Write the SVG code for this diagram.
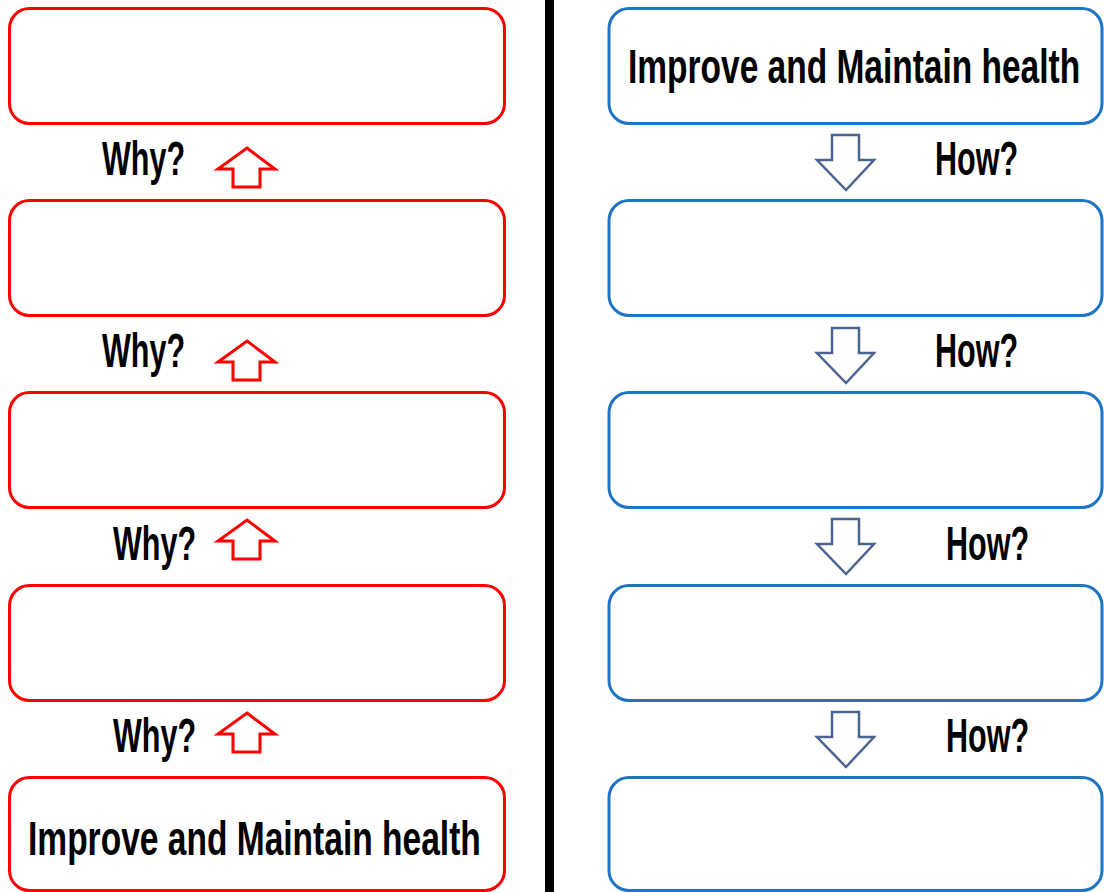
<svg xmlns="http://www.w3.org/2000/svg" width="1104" height="892" viewBox="0 0 1104 892">
  <style>
    .why-box { fill: #ffffff; stroke: #ff0000; stroke-width: 3; }
    .how-box { fill: #ffffff; stroke: #1f74c4; stroke-width: 3; }
    .up { fill: #ffffff; stroke: #ff0000; stroke-width: 3; stroke-linejoin: miter; }
    .down { fill: #ffffff; stroke: #4a6690; stroke-width: 2.5; stroke-linejoin: miter; }
    .lbl { font-family: "Liberation Sans", Arial, sans-serif; font-weight: bold; font-size: 49px; fill: #000000; }
  </style>
  <defs>
    <polygon id="up-arrow" class="up" points="0,0 28,21 13,21 13,39 -14,39 -14,21 -29,21"/>
    <polygon id="down-arrow" class="down" points="-14,0 13,0 13,25 28,25 0,55 -29,25 -14,25"/>
  </defs>
  <rect width="1104" height="892" fill="#ffffff"/>

  <!-- divider -->
  <rect x="545" y="0" width="9" height="892" fill="#000000"/>

  <!-- left column: Why? -->
  <g id="why-box-1"><rect class="why-box" x="9.5" y="8.5" width="495" height="115" rx="20"/></g>
  <g id="why-box-2"><rect class="why-box" x="9.5" y="200.5" width="495" height="115" rx="20"/></g>
  <g id="why-box-3"><rect class="why-box" x="9.5" y="392.5" width="495" height="115" rx="20"/></g>
  <g id="why-box-4"><rect class="why-box" x="9.5" y="585.5" width="495" height="115" rx="20"/></g>
  <g id="why-box-5">
    <rect class="why-box" x="9.5" y="777.5" width="495" height="113" rx="20"/>
    <text class="lbl" transform="translate(28 855) scale(0.684 1)" textLength="662" lengthAdjust="spacingAndGlyphs">Improve and Maintain health</text>
  </g>

  <!-- right column: How? -->
  <g id="how-box-1">
    <rect class="how-box" x="609" y="8.5" width="493" height="115" rx="20"/>
    <text class="lbl" transform="translate(628 83) scale(0.684 1)" textLength="661" lengthAdjust="spacingAndGlyphs">Improve and Maintain health</text>
  </g>
  <g id="how-box-2"><rect class="how-box" x="609" y="200.5" width="493" height="115" rx="20"/></g>
  <g id="how-box-3"><rect class="how-box" x="609" y="392.5" width="493" height="115" rx="20"/></g>
  <g id="how-box-4"><rect class="how-box" x="609" y="585.5" width="493" height="115" rx="20"/></g>
  <g id="how-box-5"><rect class="how-box" x="609" y="777.5" width="493" height="113" rx="20"/></g>

  <!-- connectors -->
  <g id="connectors">
    <use href="#up-arrow" x="247" y="148"/>
    <use href="#up-arrow" x="247" y="341"/>
    <use href="#up-arrow" x="247" y="520"/>
    <use href="#up-arrow" x="247" y="713"/>
    <text class="lbl" transform="translate(102 175) scale(0.62 1)" textLength="134" lengthAdjust="spacingAndGlyphs">Why?</text>
    <text class="lbl" transform="translate(102 367) scale(0.62 1)" textLength="134" lengthAdjust="spacingAndGlyphs">Why?</text>
    <text class="lbl" transform="translate(113 560) scale(0.62 1)" textLength="134" lengthAdjust="spacingAndGlyphs">Why?</text>
    <text class="lbl" transform="translate(113 752) scale(0.62 1)" textLength="134" lengthAdjust="spacingAndGlyphs">Why?</text>

    <use href="#down-arrow" x="846" y="135"/>
    <use href="#down-arrow" x="846" y="328"/>
    <use href="#down-arrow" x="846" y="519"/>
    <use href="#down-arrow" x="846" y="712"/>
    <text class="lbl" transform="translate(935 175) scale(0.62 1)" textLength="134" lengthAdjust="spacingAndGlyphs">How?</text>
    <text class="lbl" transform="translate(935 367) scale(0.62 1)" textLength="134" lengthAdjust="spacingAndGlyphs">How?</text>
    <text class="lbl" transform="translate(946 560) scale(0.62 1)" textLength="134" lengthAdjust="spacingAndGlyphs">How?</text>
    <text class="lbl" transform="translate(946 752) scale(0.62 1)" textLength="134" lengthAdjust="spacingAndGlyphs">How?</text>
  </g>
</svg>
